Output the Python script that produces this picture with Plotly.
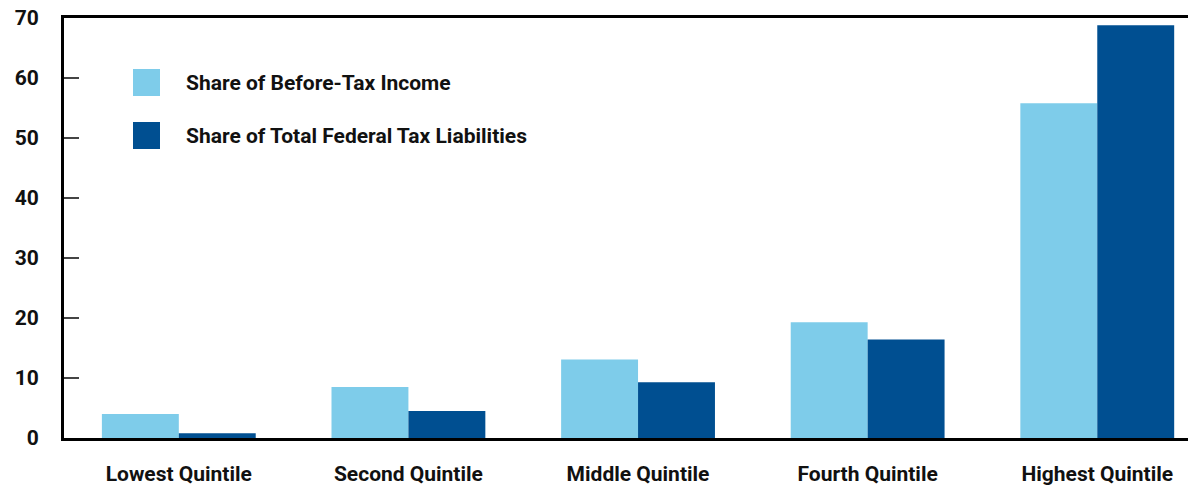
import plotly.graph_objects as go

categories = ["Lowest Quintile", "Second Quintile", "Middle Quintile", "Fourth Quintile", "Highest Quintile"]
before_tax_income = [4.0, 8.5, 13.1, 19.3, 55.8]
federal_tax_liabilities = [0.8, 4.5, 9.3, 16.4, 68.8]
series_names = ["Share of Before-Tax Income", "Share of Total Federal Tax Liabilities"]
y_ticks = [0, 10, 20, 30, 40, 50, 60, 70]

LIGHT = "#7ECCEA"
DARK = "#004F91"
FONT = "Roboto, Liberation Sans, sans-serif"

fig = go.Figure()
fig.add_trace(go.Bar(x=categories, y=before_tax_income, name=series_names[0],
                     marker=dict(color=LIGHT, line=dict(width=0))))
fig.add_trace(go.Bar(x=categories, y=federal_tax_liabilities, name=series_names[1],
                     marker=dict(color=DARK, line=dict(width=0))))

# legend drawn as swatches + labels (paper coords of a 1132x420 plot area)
for i, (name, col) in enumerate(zip(series_names, [LIGHT, DARK])):
    y0 = 69 + i * 53
    fig.add_shape(type="rect", xref="paper", yref="paper",
                  x0=(133 - 64) / 1132, x1=(160 - 64) / 1132,
                  y0=1 - (y0 + 27 - 18) / 420, y1=1 - (y0 - 18) / 420,
                  fillcolor=col, line=dict(width=0), layer="above")
    fig.add_annotation(xref="paper", yref="paper", x=(184 - 64) / 1132,
                       y=1 - (y0 + 13.5 - 18) / 420, xanchor="left", yanchor="middle",
                       text="<b>%s</b>" % name, showarrow=False,
                       font=dict(family=FONT, size=21, color="#111111"))

fig.update_layout(
    width=1188, height=478,
    margin=dict(l=56, r=0, t=10, b=48),
    paper_bgcolor="white", plot_bgcolor="white",
    barmode="group", bargap=0.33, bargroupgap=0,
    showlegend=False,
    font=dict(family=FONT, size=20, color="#111111"),
)
fig.update_xaxes(
    type="category", range=[-0.5, 4.43], automargin=False,
    showline=True, linecolor="black", linewidth=3, mirror=True,
    showgrid=False, ticks="", ticklabelstandoff=15, ticklabeloverflow="allow",
    tickfont=dict(family=FONT, size=21, color="#111111", weight="bold"),
    zeroline=False,
)
fig.update_yaxes(
    range=[0, 70], tickvals=y_ticks, automargin=False,
    showline=True, linecolor="black", linewidth=3,
    showgrid=False, zeroline=False,
    ticks="inside", ticklen=15, tickwidth=2, tickcolor="#444444",
    ticklabelstandoff=18, ticklabeloverflow="allow",
    tickfont=dict(family=FONT, size=21, color="#111111", weight="bold"),
)

fig.write_html("out.html")
